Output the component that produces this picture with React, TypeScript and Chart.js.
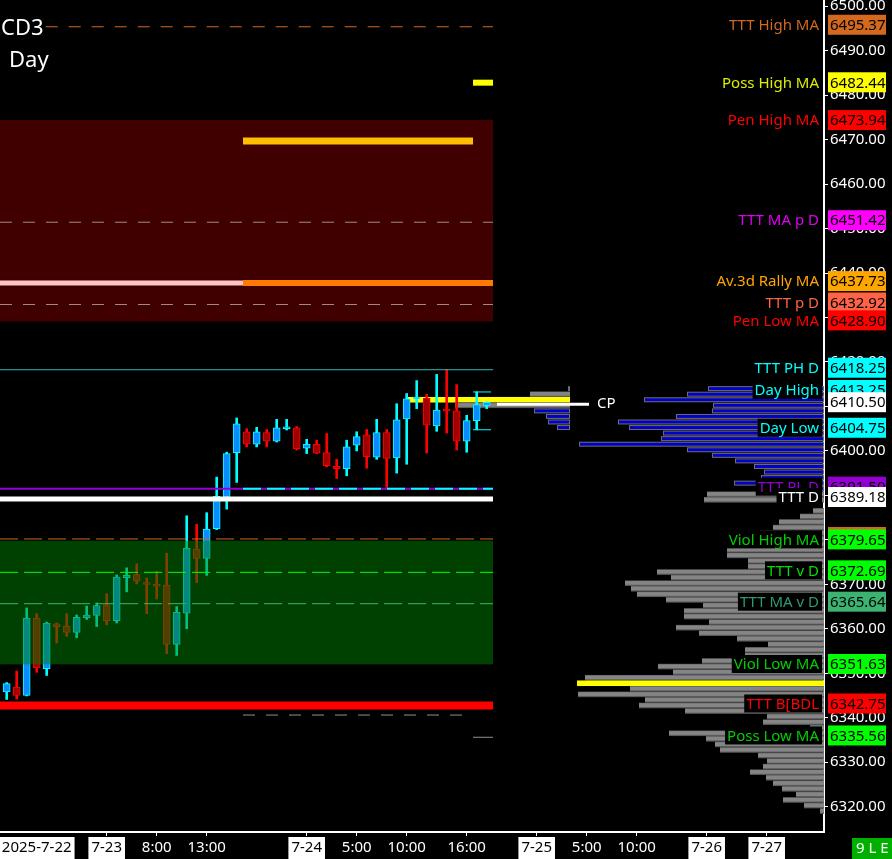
import React, { useEffect, useRef } from 'react';
import { Chart, registerables } from 'chart.js';

Chart.register(...registerables);

const FONT = "'Noto Sans', 'DejaVu Sans', sans-serif";

const X_MIN = -0.67;
const X_MAX = 81.73;
const Y_MIN = 6314.3;
const Y_MAX = 6501.39;

// hourly candles (index = bar slot)
const OPEN = [6345.8, 6346.9, 6345.0, 6362.4, 6351.0, 6361.1, 6360.6, 6359.2, 6362.5, 6363.0, 6365.4, 6361.8, 6371.5, 6372.2, 6370.4, 6370.0, 6369.8, 6356.5, 6363.5, 6377.9, 6375.8, 6382.5, 6389.6, 6399.6, 6404.3, 6401.5, 6404.1, 6402.2, 6405.0, 6405.2, 6400.6, 6401.5, 6399.6, 6396.5, 6396.0, 6401.3, 6403.6, 6398.6, 6404.1, 6398.4, 6407.2, 6411.7, 6411.9, 6405.6, 6409.4, 6409.0, 6402.2, 6406.8, 6410.2];
const HIGH = [6347.9, 6350.5, 6364.7, 6363.4, 6361.5, 6361.3, 6363.4, 6363.1, 6365.1, 6365.8, 6367.9, 6372.1, 6373.7, 6374.6, 6371.4, 6372.9, 6377.0, 6365.0, 6385.4, 6383.5, 6386.1, 6394.1, 6399.7, 6407.4, 6405.0, 6405.3, 6404.8, 6407.1, 6407.1, 6405.5, 6402.6, 6402.4, 6403.9, 6398.1, 6402.4, 6404.3, 6404.8, 6407.1, 6404.8, 6410.6, 6412.9, 6415.8, 6412.7, 6417.2, 6418.3, 6414.9, 6408.0, 6413.25, 6411.0];
const LOW = [6344.1, 6344.2, 6344.9, 6350.2, 6349.5, 6356.8, 6358.3, 6358.0, 6362.1, 6360.5, 6360.9, 6361.3, 6368.3, 6370.1, 6363.4, 6366.7, 6354.4, 6354.0, 6360.0, 6370.4, 6372.0, 6382.3, 6386.9, 6392.9, 6400.9, 6400.9, 6400.9, 6402.0, 6404.7, 6400.2, 6399.4, 6399.4, 6396.4, 6393.8, 6394.4, 6400.0, 6396.1, 6398.1, 6391.8, 6395.0, 6397.0, 6409.5, 6399.5, 6404.4, 6404.0, 6400.2, 6399.7, 6404.75, 6409.5];
const CLOSE = [6347.65, 6345.0, 6362.4, 6351.2, 6361.3, 6360.5, 6359.2, 6362.6, 6363.1, 6365.2, 6361.8, 6371.6, 6372.0, 6370.7, 6370.0, 6369.6, 6356.5, 6363.7, 6378.1, 6375.8, 6382.4, 6389.8, 6399.4, 6406.1, 6401.5, 6404.3, 6402.2, 6405.2, 6405.4, 6400.5, 6401.5, 6399.5, 6396.7, 6396.0, 6400.9, 6403.2, 6398.7, 6404.1, 6398.3, 6407.0, 6411.7, 6412.1, 6405.8, 6409.2, 6409.0, 6402.2, 6406.8, 6410.4, 6410.9];

const Y_TICKS = [6320, 6330, 6340, 6350, 6360, 6370, 6380, 6390, 6400, 6410, 6420, 6430, 6440, 6450, 6460, 6470, 6480, 6490, 6500];

const X_TICK_POS = [3.0, 10, 15, 20, 30, 35, 40, 46, 53, 58, 63, 70, 76];
const X_TICK_LABELS = ['2025-7-22', '7-23', '8:00', '13:00', '7-24', '5:00', '10:00', '16:00', '7-25', '5:00', '10:00', '7-26', '7-27'];
const X_TICK_IS_DATE = [true, true, false, false, true, false, false, false, true, false, false, true, true];

// price level labels on the right
const LEVEL_PRICES = [6495.37, 6482.44, 6473.94, 6451.42, 6437.73, 6432.92, 6428.90, 6418.25, 6413.25, 6410.50, 6404.75, 6391.50, 6389.18, 6380.19, 6379.65, 6372.69, 6365.64, 6351.63, 6342.75, 6335.56];
const LEVEL_NAMES = ['TTT High MA', 'Poss High MA', 'Pen High MA', 'TTT MA p D', 'Av.3d Rally MA', 'TTT p D', 'Pen Low MA', 'TTT PH D', 'Day High', '', 'Day Low', 'TTT PL D', 'TTT D', '', 'Viol High MA', 'TTT v D', 'TTT MA v D', 'Viol Low MA', 'TTT B[BDL', 'Poss Low MA'];
const LEVEL_BOX_COLORS = ['#D2691E', '#FFFF00', '#FF0000', '#FF00FF', '#FFA500', '#FF6347', '#FF0000', '#00FFFF', '#00FFFF', '#FFFFFF', '#00FFFF', '#9400D3', '#FFFFFF', '#D2691E', '#00FF00', '#00FF00', '#3CB371', '#00FF00', '#FF0000', '#00FF00'];
const LEVEL_TEXT_COLORS = ['#D2691E', '#DDEE00', '#FF0000', '#E000F0', '#FFA500', '#FF6347', '#FF0000', '#00FFFF', '#00FFFF', '#FFFFFF', '#00FFFF', '#9400D3', '#FFFFFF', '#D2691E', '#00D000', '#00E000', '#2E9B6F', '#00D000', '#FF0000', '#00D000'];

// horizontal level lines
const LINE_PRICES = [6495.37, 6482.8, 6469.69, 6451.42, 6437.73, 6437.73, 6432.92, 6418.25, 6413.25, 6404.75, 6391.5, 6391.5, 6389.18, 6380.19, 6372.69, 6365.64, 6342.75, 6340.6, 6335.6, 6410.5];
const LINE_FROM = [3.9, 46.63, 23.63, X_MIN, X_MIN, 23.63, X_MIN, X_MIN, 46.63, 46.63, X_MIN, 23.63, X_MIN, X_MIN, X_MIN, X_MIN, X_MIN, 23.63, 46.63, 49.03];
const LINE_TO = [48.63, 48.63, 46.63, 48.63, 23.63, 48.63, 48.63, 48.63, 48.43, 48.43, 48.63, 48.63, 48.63, 48.63, 48.63, 48.63, 48.63, 46.63, 48.63, 58.23];
const LINE_COLORS = ['#D2691E', '#FFFF00', '#FFBF00', '#a08a8a', '#FFC4C4', '#FF7A00', '#a08a8a', '#30b8b8', '#00FFFF', '#00FFFF', '#9400D3', '#00FFFF', '#FFFFFF', '#D2691E', '#00FF00', '#3CB371', '#FF0000', '#909090', '#909090', '#FFFFFF'];
const LINE_WIDTHS = [1, 6, 7, 1, 5, 6, 1, 1, 1, 1, 2, 2, 5, 1, 1, 1, 8, 1, 1, 3];
const LINE_DASHES = [[12, 11], [], [], [12, 11], [], [], [12, 11], [], [], [], [], [18, 6], [], [18, 6], [18, 6], [18, 6], [], [12, 11], [], []];

// shaded zones
const ZONE_LOW = [6429.1, 6352.0];
const ZONE_HIGH = [6474.4, 6379.8];
const ZONE_COLORS = ['#400000', 'rgba(0,128,0,0.5)'];
const ZONE_TO = 48.63;

// volume profiles (rows of 1.25 points from the top level down)
const PROFILE_TOP = 6414.0;
const PROFILE_STEP = 1.25;
const PROFILE_VOL = [116, 137, 180, 111, 112, 148, 206, 195, 161, 163, 245, 137, 112, 89, 70, 60, 63, 90, 44, 117, 120, 0, 11, 24, 45, 51, 64, 79, 89, 97, 97, 76, 76, 167, 153, 199, 193, 187, 158, 121, 140, 140, 115, 148, 125, 87, 56, 79, 79, 122, 166, 151, 239, 247, 194, 246, 179, 185, 139, 57, 61, 14, 155, 118, 109, 104, 66, 57, 61, 74, 58, 51, 42, 28, 41, 20, 4];
const PROFILE_DAY_ROWS = 19;
const PROFILE_POC_ROW = 53;
const DEV_PROFILE_VOL = [2, 40, 162, 115, 36, 24, 22, 13];
const DEV_PROFILE_KIND = ['b', 'g', 'y', 'g', 'b', 'b', 'b', 'b'];
const DEV_PROFILE_RIGHT = 56.33;

function drawRows(ctx: CanvasRenderingContext2D, x: any, y: any, vols: number[], kinds: string[], rightVal: number) {
  const right = x.getPixelForValue(rightVal);
  vols.forEach((v, r) => {
    if (!v) return;
    const p = PROFILE_TOP - r * PROFILE_STEP;
    const top = y.getPixelForValue(p + PROFILE_STEP / 2);
    const bot = y.getPixelForValue(p - PROFILE_STEP / 2);
    const left = x.getPixelForValue(rightVal - v / 10);
    const h = bot - top;
    const w = right - left;
    const k = kinds[r];
    if (k === 'y') {
      ctx.fillStyle = '#FFFF00';
      ctx.fillRect(left, top, w, h);
    } else if (k === 'b') {
      ctx.fillStyle = '#6e6e6e';
      ctx.fillRect(left, top + 0.3, w, h - 0.6);
      ctx.fillStyle = '#0000C8';
      ctx.fillRect(left + 1, top + 1.3, Math.max(w - 2, 0), h - 2.6);
    } else {
      ctx.fillStyle = '#5a5a5a';
      ctx.fillRect(left, top, w, h);
      ctx.fillStyle = '#858585';
      ctx.fillRect(left, top + 0.6, w, h - 1.8);
    }
  });
}

function drawZone(ctx: CanvasRenderingContext2D, x: any, y: any, i: number) {
  const l = x.getPixelForValue(X_MIN);
  const r = x.getPixelForValue(ZONE_TO);
  const t = y.getPixelForValue(ZONE_HIGH[i]);
  const b = y.getPixelForValue(ZONE_LOW[i]);
  ctx.fillStyle = ZONE_COLORS[i];
  ctx.fillRect(l, t, r - l, b - t);
}

const levelPlugin = {
  id: 'levels',
  beforeDraw(chart: any) {
    const { ctx } = chart;
    ctx.save();
    ctx.fillStyle = '#000';
    ctx.fillRect(0, 0, chart.width, chart.height);
    ctx.restore();
  },
  beforeDatasetsDraw(chart: any) {
    const { ctx, scales: { x, y } } = chart;
    ctx.save();
    drawZone(ctx, x, y, 0);
    drawRows(ctx, x, y, DEV_PROFILE_VOL, DEV_PROFILE_KIND, DEV_PROFILE_RIGHT);
    ctx.restore();
  },
  afterDatasetsDraw(chart: any) {
    const { ctx, scales: { x, y } } = chart;
    ctx.save();
    drawZone(ctx, x, y, 1);
    LINE_PRICES.forEach((p, i) => {
      const py = y.getPixelForValue(p);
      ctx.beginPath();
      ctx.strokeStyle = LINE_COLORS[i];
      ctx.lineWidth = LINE_WIDTHS[i];
      ctx.setLineDash(LINE_DASHES[i]);
      ctx.moveTo(x.getPixelForValue(LINE_FROM[i]), py);
      ctx.lineTo(x.getPixelForValue(LINE_TO[i]), py);
      ctx.stroke();
    });
    ctx.setLineDash([]);
    const kinds = PROFILE_VOL.map((_, r) => (r === PROFILE_POC_ROW ? 'y' : r < PROFILE_DAY_ROWS ? 'b' : 'g'));
    drawRows(ctx, x, y, PROFILE_VOL, kinds, X_MAX);
    ctx.fillStyle = '#fff';
    ctx.font = `15px ${FONT}`;
    ctx.textAlign = 'left';
    ctx.textBaseline = 'middle';
    ctx.fillText('CP', x.getPixelForValue(59.03), y.getPixelForValue(6410.5));
    ctx.restore();
  },
  afterDraw(chart: any) {
    const { ctx, chartArea, scales: { y } } = chart;
    ctx.save();
    ctx.font = `15px ${FONT}`;
    ctx.textBaseline = 'middle';
    const boxX = chartArea.right + 4;
    LEVEL_PRICES.forEach((p, i) => {
      const yc = y.getPixelForValue(p) - 2;
      ctx.fillStyle = LEVEL_BOX_COLORS[i];
      ctx.fillRect(boxX, yc - 10, 58, 20);
      ctx.fillStyle = '#000';
      ctx.textAlign = 'left';
      ctx.fillText(p.toFixed(2), boxX + 2, yc + 1);
      const name = LEVEL_NAMES[i];
      if (name) {
        const w = ctx.measureText(name).width;
        const rx = chartArea.right - 5;
        ctx.fillStyle = '#000';
        ctx.fillRect(rx - w - 2, yc - 9, w + 5, 18);
        ctx.fillStyle = LEVEL_TEXT_COLORS[i];
        ctx.textAlign = 'right';
        ctx.fillText(name, rx, yc + 1);
      }
    });
    ctx.textAlign = 'left';
    ctx.fillStyle = '#fff';
    ctx.font = `22px ${FONT}`;
    ctx.fillText('CD3', 1, 29);
    ctx.fillText('Day', 9, 61);
    ctx.fillStyle = '#00B000';
    ctx.fillRect(chartArea.right + 28, chartArea.bottom + 6, 40, 21);
    ctx.fillStyle = '#fff';
    ctx.font = `15px ${FONT}`;
    ctx.fillText('9 L E', chartArea.right + 32, chartArea.bottom + 17);
    ctx.restore();
  },
};

export default function App() {
  const ref = useRef<HTMLCanvasElement>(null);
  useEffect(() => {
    if (!ref.current) return;
    Chart.defaults.font.family = FONT;
    const idx = OPEN.map((_, i) => i);
    const up = idx.map((i) => CLOSE[i] >= OPEN[i]);
    const chart = new Chart(ref.current, {
      type: 'bar',
      data: {
        datasets: [
          {
            label: 'body',
            data: idx.map((i) => ({ x: i, y: [OPEN[i], CLOSE[i]] })) as any,
            backgroundColor: idx.map((i) => (up[i] ? '#0A8CFF' : '#A00000')),
            borderColor: idx.map((i) => (up[i] ? '#00FFFF' : '#FF0000')),
            borderWidth: 1,
            borderSkipped: false,
            barThickness: 7,
            grouped: false,
            order: 1,
          } as any,
          {
            label: 'wick',
            data: idx.map((i) => ({ x: i, y: [LOW[i], HIGH[i]] })) as any,
            backgroundColor: idx.map((i) => (up[i] ? '#00FFFF' : '#FF0000')),
            borderWidth: 0,
            barThickness: 2,
            grouped: false,
            order: 2,
          } as any,
        ],
      },
      options: {
        animation: false,
        responsive: true,
        maintainAspectRatio: false,
        events: [],
        layout: { padding: 0 },
        plugins: { legend: { display: false }, tooltip: { enabled: false } },
        scales: {
          x: {
            type: 'linear',
            position: 'bottom',
            offset: false,
            min: X_MIN,
            max: X_MAX,
            afterBuildTicks: (s: any) => {
              s.ticks = X_TICK_POS.map((v) => ({ value: v }));
            },
            afterFit: (s: any) => {
              s.height = 27;
              s.paddingLeft = 0;
              s.paddingRight = 0;
            },
            ticks: {
              autoSkip: false,
              maxRotation: 0,
              minRotation: 0,
              padding: 3,
              font: { family: FONT, size: 15 },
              color: (c: any) => (X_TICK_IS_DATE[c.index] ? '#000' : '#fff'),
              showLabelBackdrop: true,
              backdropColor: (c: any) => (X_TICK_IS_DATE[c.index] ? '#fff' : '#000'),
              backdropPadding: { top: 2, bottom: 3, left: 3, right: 3 },
              callback: (_v: any, i: number) => X_TICK_LABELS[i],
            },
            grid: {
              offset: false,
              drawOnChartArea: false,
              drawTicks: true,
              tickLength: 4,
              color: (c: any) => (c.index === 0 ? 'rgba(0,0,0,0)' : '#fff'),
            },
            border: { color: '#fff', width: 2 },
          } as any,
          y: {
            type: 'linear',
            position: 'right',
            min: Y_MIN,
            max: Y_MAX,
            afterBuildTicks: (s: any) => {
              s.ticks = Y_TICKS.map((v) => ({ value: v }));
            },
            afterFit: (s: any) => {
              s.width = 68;
              s.paddingTop = 0;
              s.paddingBottom = 0;
            },
            ticks: {
              color: '#fff',
              padding: 2,
              font: { family: FONT, size: 15 },
              callback: (v: any) => Number(v).toFixed(2),
            },
            grid: { drawOnChartArea: false, drawTicks: true, tickLength: 4, color: '#fff' },
            border: { color: '#fff', width: 2 },
          } as any,
        },
      },
      plugins: [levelPlugin],
    } as any);
    return () => chart.destroy();
  }, []);
  return (
    <div style={{ position: 'fixed', left: 0, top: 0, width: 892, height: 859, background: '#000' }}>
      <canvas ref={ref} style={{ display: 'block' }} />
    </div>
  );
}
